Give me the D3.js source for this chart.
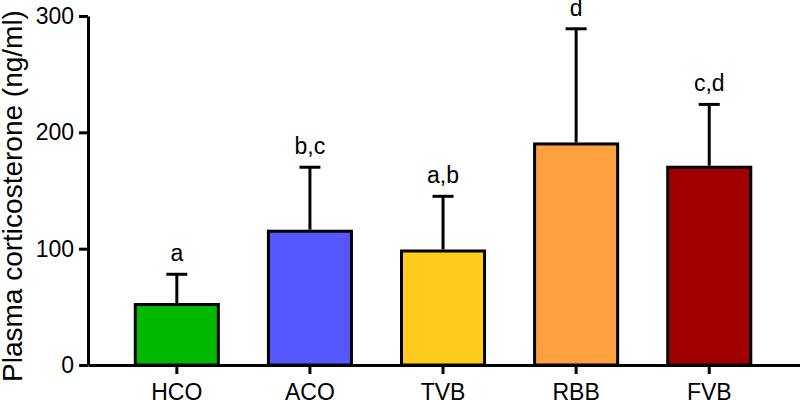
<!DOCTYPE html>
<html><head><meta charset="utf-8">
<script src="https://cdn.jsdelivr.net/npm/d3@7/dist/d3.min.js"></script>
<style>
html,body{margin:0;padding:0;background:#fff;}
svg{display:block;font-family:"Liberation Sans",Arial,Helvetica,sans-serif;}
</style></head>
<body>
<svg id="chart" width="800" height="401"></svg>
<script>
const categories = ["HCO", "ACO", "TVB", "RBB", "FVB"];
const means = [52, 115, 98, 190, 170];
const errors = [26, 55, 47, 99, 54];
const letters = ["a", "b,c", "a,b", "d", "c,d"];
const colors = ["#00b800", "#5757ff", "#ffcb1f", "#ffa040", "#a00000"];
const yTicks = [0, 100, 200, 300];

const svg = d3.select("#chart");
const x = d3.scaleBand().domain(categories).range([88, 800])
  .paddingInner(0.376).paddingOuter(0.3626).align(0.49);
const y = d3.scaleLinear().domain([0, 300]).range([365, 16]);

// bars
svg.append("g").selectAll("rect").data(categories).join("rect")
  .attr("x", d => x(d)).attr("width", x.bandwidth())
  .attr("y", (d, i) => y(means[i])).attr("height", (d, i) => y(0) - y(means[i]))
  .attr("fill", (d, i) => colors[i]).attr("stroke", "#000").attr("stroke-width", 3);

// error bars
const eb = svg.append("g").attr("stroke", "#000").attr("stroke-width", 3);
categories.forEach((c, i) => {
  const cx = x(c) + x.bandwidth() / 2;
  eb.append("line").attr("x1", cx).attr("x2", cx)
    .attr("y1", y(means[i]) - 1.5).attr("y2", y(means[i] + errors[i]));
  eb.append("line").attr("x1", cx - 10.5).attr("x2", cx + 10.5)
    .attr("y1", y(means[i] + errors[i])).attr("y2", y(means[i] + errors[i]));
  svg.append("text").attr("x", cx).attr("y", y(means[i] + errors[i]) - 13)
    .attr("text-anchor", "middle").attr("font-size", 23).attr("fill", "#000")
    .text(letters[i]);
});

// axes
const yAxis = svg.append("g").attr("transform", "translate(88,0)")
  .call(d3.axisLeft(y).tickValues(yTicks).tickSize(9).tickSizeOuter(0).tickPadding(5));
const xAxis = svg.append("g").attr("transform", "translate(0,365)")
  .call(d3.axisBottom(x).tickSize(9).tickSizeOuter(0).tickPadding(10));
[yAxis, xAxis].forEach(a => {
  a.selectAll("path,line").attr("stroke", "#000").attr("stroke-width", 3);
  a.selectAll("text").attr("font-size", 23).attr("fill", "#000")
    .attr("font-family", "Liberation Sans, Arial, sans-serif");
});

svg.append("text").attr("transform", "translate(22,196) rotate(-90)")
  .attr("text-anchor", "middle").attr("font-size", 28).attr("fill", "#000")
  .text("Plasma corticosterone (ng/ml)");
</script>
</body></html>
